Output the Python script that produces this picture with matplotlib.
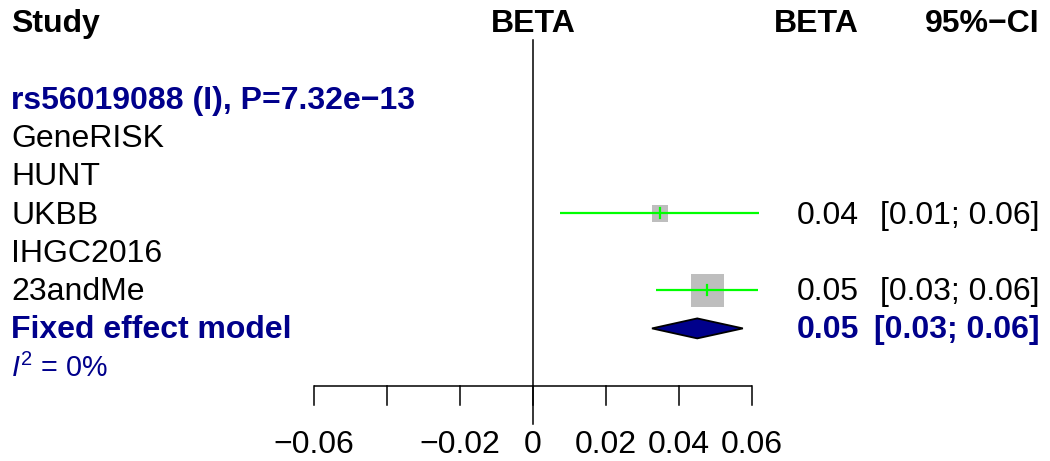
import numpy as np
import matplotlib
matplotlib.use('Agg')
import matplotlib.pyplot as plt
from matplotlib.patches import Rectangle, Polygon
from matplotlib.transforms import blended_transform_factory

plt.rcParams['font.family'] = ['Liberation Sans', 'DejaVu Sans']
plt.rcParams['mathtext.fontset'] = 'custom'
plt.rcParams['mathtext.rm'] = 'Liberation Sans'
plt.rcParams['mathtext.it'] = 'Liberation Sans:italic'

# data
snp_label = 'rs56019088 (I), P=7.32e\u221213'
studies = ['GeneRISK', 'HUNT', 'UKBB', 'IHGC2016', '23andMe']
beta = [None, None, 0.0348, None, 0.0477]
ci_lo = [None, None, 0.0074, None, 0.0337]
ci_hi = [None, None, 0.0620, None, 0.0616]
beta_txt = ['', '', '0.04', '', '0.05']
ci_txt = ['', '', '[0.01; 0.06]', '', '[0.03; 0.06]']
weights = [0, 0, 20.7, 0, 79.3]
fixed_beta, fixed_lo, fixed_hi = 0.0450, 0.0326, 0.0575
fixed_txt = ('0.05', '[0.03; 0.06]')
i2_txt = '0%'
xticks = [-0.06, -0.04, -0.02, 0, 0.02, 0.04, 0.06]
xticklabels = ['\u22120.06', '', '\u22120.02', '0', '0.02', '0.04', '0.06']

blue = '#00008B'
fs = 23

# pixel geometry of the reference (1050 x 461)
W, H = 1050, 461
px_per_beta = 3650.0
x0_px = 533.0
row0_px, row_px = 22.0, 38.3

fig = plt.figure(figsize=(W / 100, H / 100), dpi=100)
ax = fig.add_axes([0, 0, 1, 1])
ax.set_xlim((0 - x0_px) / px_per_beta, (W - x0_px) / px_per_beta)
ax.set_ylim((H - row0_px) / row_px, (0 - row0_px) / row_px)
ax.axis('off')

tr = blended_transform_factory(ax.transAxes, ax.transData)
base = 10.0 / row_px  # baseline offset below row centre
left = 11.0 / W
col_beta = 859.0 / W
col_ci = 1040.0 / W

# headers
ax.text(left, 0 + base, 'Study', transform=tr, fontsize=fs, fontweight='bold', va='baseline')
ax.text(0, 0 + base, 'BETA', fontsize=fs, fontweight='bold', ha='center', va='baseline')
ax.text(col_beta, 0 + base, 'BETA', transform=tr, fontsize=fs, fontweight='bold', ha='right', va='baseline')
ax.text(col_ci, 0 + base, '95%\u2212CI', transform=tr, fontsize=fs, fontweight='bold', ha='right', va='baseline')

ax.text(left, 2 + base, snp_label, transform=tr, fontsize=fs, fontweight='bold', color=blue, va='baseline')

max_side = 33.0
wmax = max(weights)
for i, name in enumerate(studies):
    y = 3 + i
    ax.text(left, y + base, name, transform=tr, fontsize=fs, va='baseline')
    if beta[i] is None:
        continue
    side = max_side * np.sqrt(weights[i] / wmax)
    w = side / px_per_beta
    h = side / row_px
    ax.add_patch(Rectangle((beta[i] - w / 2, y - h / 2), w, h, facecolor='#BEBEBE', edgecolor='none', zorder=2))
    ax.plot([ci_lo[i], ci_hi[i]], [y, y], color='#00FF00', lw=1.6, zorder=3, solid_capstyle='butt')
    ax.plot([beta[i], beta[i]], [y - 5 / row_px, y + 5 / row_px], color='#00FF00', lw=1.6, zorder=3)
    ax.text(col_beta, y + base, beta_txt[i], transform=tr, fontsize=fs, ha='right', va='baseline')
    ax.text(col_ci, y + base, ci_txt[i], transform=tr, fontsize=fs, ha='right', va='baseline')

# fixed effect
yf = 3 + len(studies)
dh = 10.0 / row_px
ax.add_patch(Polygon([(fixed_lo, yf), (fixed_beta, yf - dh), (fixed_hi, yf), (fixed_beta, yf + dh)],
                     closed=True, facecolor=blue, edgecolor='black', lw=1.3, zorder=3))
ax.text(left, yf + base, 'Fixed effect model', transform=tr, fontsize=fs, fontweight='bold', color=blue, va='baseline')
ax.text(col_beta, yf + base, fixed_txt[0], transform=tr, fontsize=fs, fontweight='bold', color=blue, ha='right', va='baseline')
ax.text(col_ci, yf + base, fixed_txt[1], transform=tr, fontsize=fs, fontweight='bold', color=blue, ha='right', va='baseline')
ax.text(left, yf + 1 + base, r'$I^2$ = ' + i2_txt, transform=tr, fontsize=fs * 0.9, color=blue, va='baseline')

# zero line and bottom axis
y_axis = (386 - row0_px) / row_px
y_tick = (405 - row0_px) / row_px
y_lab = (453 - row0_px) / row_px
ax.plot([0, 0], [(40 - row0_px) / row_px, (424 - row0_px) / row_px], color='black', lw=1.1)
ax.plot([xticks[0], xticks[-1]], [y_axis, y_axis], color='black', lw=1.1, solid_capstyle='butt')
for t, lab in zip(xticks, xticklabels):
    ax.plot([t, t], [y_axis, y_tick], color='black', lw=1.1)
    ax.text(t, y_lab, lab, fontsize=fs, ha='center', va='baseline')

fig.savefig('out.png', dpi=100)
